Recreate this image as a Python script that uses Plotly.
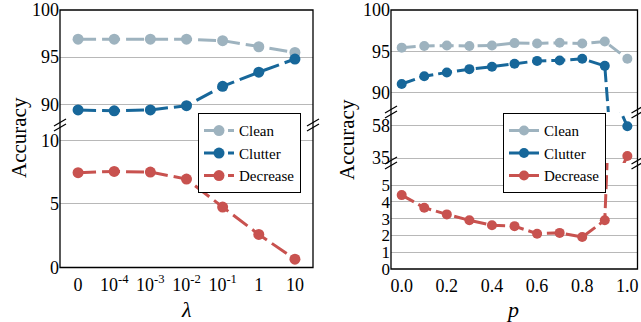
import plotly.graph_objects as go

W, H = 641, 322

# ---------------- data ----------------
lam_labels = ["0", "10<sup>-4</sup>", "10<sup>-3</sup>", "10<sup>-2</sup>",
              "10<sup>-1</sup>", "1", "10"]
lam_clean = [96.9, 96.9, 96.9, 96.9, 96.75, 96.1, 95.5]
lam_clutter = [89.4, 89.3, 89.4, 89.85, 91.9, 93.4, 94.8]
lam_decrease = [7.45, 7.55, 7.5, 6.95, 4.75, 2.6, 0.65]

p_values = [0.0, 0.1, 0.2, 0.3, 0.4, 0.5, 0.6, 0.7, 0.8, 0.9, 1.0]
p_clean = [95.45, 95.65, 95.7, 95.65, 95.7, 96.0, 95.95, 96.05, 95.95, 96.2, 94.1]
p_clutter = [91.05, 92.0, 92.45, 92.85, 93.15, 93.5, 93.85, 93.9, 94.1, 93.25, 57.6]
p_decrease = [4.4, 3.65, 3.25, 2.9, 2.6, 2.55, 2.1, 2.15, 1.9, 2.9, 36.5]

p_tickvals = [0.0, 0.2, 0.4, 0.6, 0.8, 1.0]
p_ticktext = ["0.0", "0.2", "0.4", "0.6", "0.8", "1.0"]

# ---------------- styles ----------------
C_CLEAN = "#9eb3bf"
C_CLUTTER = "#17679a"
C_DEC = "#c8524f"
FONT = "Liberation Serif"
GRID = "#b8b8b8"


def py(pix):
    return 1 - pix / H


def px(pix):
    return pix / W


# pixel geometry
L_X0, L_X1 = 60, 313
R_X0, R_X1 = 391, 637.5
L_TOP, L_BRK, L_BOT = 10, 125, 267.5
R_TOP, R_BRK1, R_BRK2, R_BOT = 10, 112, 163, 269

fig = go.Figure()


def tr(x, y, name, color, xa, ya, legend, show, msize, dash):
    fig.add_trace(go.Scatter(
        x=x, y=y, name=name, mode="lines+markers",
        line=dict(color=color, width=3, dash=dash),
        marker=dict(color=color, size=msize),
        xaxis=xa, yaxis=ya, legend=legend, showlegend=show))


dl = "18px,6px"
dr = "14px,5px"
tr(lam_labels, lam_clean, "Clean", C_CLEAN, "x", "y", "legend", True, 11, dl)
tr(lam_labels, lam_clutter, "Clutter", C_CLUTTER, "x", "y", "legend", True, 11, dl)
tr(lam_labels, lam_decrease, "Decrease", C_DEC, "x2", "y2", "legend", True, 11, dl)

tr(p_values, p_clean, "Clean", C_CLEAN, "x3", "y3", "legend2", True, 10, dr)
tr(p_values, p_clutter, "Clutter", C_CLUTTER, "x3", "y3", "legend2", True, 10, dr)
tr(p_values, p_clutter, "Clutter", C_CLUTTER, "x4", "y4", "legend2", False, 10, dr)
tr(p_values, p_decrease, "Decrease", C_DEC, "x5", "y5", "legend2", True, 10, dr)
tr(p_values, p_decrease, "Decrease", C_DEC, "x4", "y4", "legend2", False, 10, dr)

tickfont = dict(family=FONT, size=18, color="black")


def xax(domain, anchor, rng, show, **kw):
    d = dict(domain=domain, anchor=anchor, range=rng, showgrid=False,
             zeroline=False, showline=False, ticks="", showticklabels=show,
             tickfont=tickfont, ticklabelstandoff=4)
    d.update(kw)
    return d


def yax(domain, anchor, rng, tickvals, size=18):
    return dict(domain=domain, anchor=anchor, range=rng, showgrid=True,
                gridcolor=GRID, gridwidth=1, zeroline=False, showline=False,
                ticks="", tickvals=tickvals,
                tickfont=dict(family=FONT, size=size, color="black"))


LD = [px(L_X0), px(L_X1)]
RD = [px(R_X0), px(R_X1)]
p_rng = [-0.0474, 1.045]

leg = dict(xanchor="left", yanchor="top", bgcolor="white",
           bordercolor="black", borderwidth=1,
           font=dict(family=FONT, size=15, color="black"), tracegroupgap=0)

fig.update_layout(
    width=W, height=H, autosize=False, template="none",
    margin=dict(l=0, r=0, t=0, b=0),
    paper_bgcolor="white", plot_bgcolor="white",
    font=dict(family=FONT, color="black"),
    xaxis=xax(LD, "y", [-0.5, 6.5], False, type="category"),
    yaxis=yax([py(L_BRK), py(L_TOP)], "x", [87.8, 100], [90, 95, 100]),
    xaxis2=xax(LD, "y2", [-0.5, 6.5], True, type="category"),
    yaxis2=yax([py(L_BOT), py(L_BRK)], "x2", [0, 11.2], [0, 5, 10]),
    xaxis3=xax(RD, "y3", p_rng, False),
    yaxis3=yax([py(R_BRK1), py(R_TOP)], "x3", [87.67, 100], [90, 95, 100]),
    xaxis4=xax(RD, "y4", p_rng, False),
    yaxis4=yax([py(R_BRK2), py(R_BRK1)], "x4", [31.5, 67.8], [35, 58]),
    xaxis5=xax(RD, "y5", p_rng, True, tickvals=p_tickvals, ticktext=p_ticktext),
    yaxis5=yax([py(R_BOT), py(R_BRK2)], "x5", [0, 6.31], [0, 1, 2, 3, 4, 5], 17),
    legend=dict(x=px(198), y=py(113.3), **leg),
    legend2=dict(x=px(503), y=py(113.3), **leg),
)

shapes = []
# frames
for x0, x1, y0, y1 in [(L_X0, L_X1, L_BOT, L_TOP), (R_X0, R_X1, R_BOT, R_TOP)]:
    shapes.append(dict(type="rect", xref="paper", yref="paper",
                       x0=px(x0), x1=px(x1), y0=py(y0), y1=py(y1),
                       line=dict(color="black", width=1.3),
                       fillcolor="rgba(0,0,0,0)", layer="above"))


def brk(xp, yp):
    for dy in (-2.5, 2.5):
        shapes.append(dict(type="line", xref="paper", yref="paper",
                           x0=px(xp - 6), y0=py(yp + dy + 3.5),
                           x1=px(xp + 6), y1=py(yp + dy - 3.5),
                           line=dict(color="black", width=1.2),
                           layer="above"))


for xp in (L_X0, L_X1):
    brk(xp, L_BRK)
for xp in (R_X0, R_X1):
    brk(xp, R_BRK1)
    brk(xp, R_BRK2)

fig.update_layout(shapes=shapes)

ann_font = dict(family=FONT, size=21, color="black")
fig.add_annotation(text="Accuracy", x=px(19), y=py(138), xref="paper", yref="paper",
                   textangle=-90, showarrow=False, font=ann_font,
                   xanchor="center", yanchor="middle")
fig.add_annotation(text="Accuracy", x=px(347), y=py(140), xref="paper", yref="paper",
                   textangle=-90, showarrow=False, font=ann_font,
                   xanchor="center", yanchor="middle")
fig.add_annotation(text="<i>λ</i>", x=px(186.5), y=py(309), xref="paper", yref="paper",
                   showarrow=False, font=dict(family=FONT, size=22, color="black"),
                   xanchor="center", yanchor="middle")
fig.add_annotation(text="<i>p</i>", x=px(512), y=py(309), xref="paper", yref="paper",
                   showarrow=False, font=dict(family=FONT, size=22, color="black"),
                   xanchor="center", yanchor="middle")

fig.write_html(
    "out.html",
    config={"displayModeBar": False},
    post_script="document.body.style.margin='0';document.body.style.overflow='hidden';",
)
